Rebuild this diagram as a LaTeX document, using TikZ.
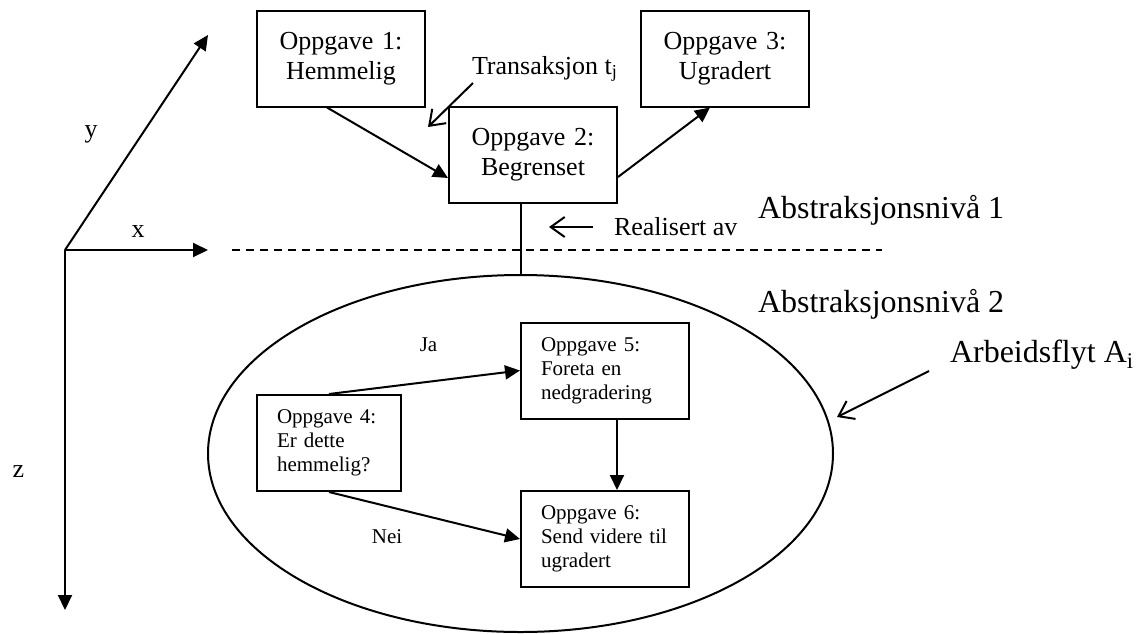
\documentclass[tikz,border=0pt]{standalone}
\usepackage{fontspec}
\setmainfont{Liberation Serif}
\usetikzlibrary{arrows.meta,shapes.geometric,calc}
\begin{document}
\begin{tikzpicture}[x=1pt,y=-1pt,
  line width=2pt,
  big/.style={font=\fontsize{26}{30}\selectfont},
  small/.style={font=\fontsize{21}{24}\selectfont},
  large/.style={font=\fontsize{32}{36}\selectfont},
  topbox/.style={draw, big, align=center, text width=128pt, inner xsep=20pt,
    inner ysep=0pt, minimum width=168pt, minimum height=96pt},
  lowbox/.style={draw, small, align=left, inner xsep=20pt, inner ysep=0pt,
    minimum width=168pt, minimum height=96pt},
  fillarrow/.style={-{Triangle[length=15pt,width=14pt]}},
  openarrow/.style={-{Straight Barb[length=14pt,width=20pt]}},
  label/.style={inner sep=0pt}
]
\useasboundingbox (0,0) rectangle (1136,633);

% abstraction level 1: tasks
\node[topbox] (b1) at (341,58.5) {Oppgave 1:\\Hemmelig};
\node[topbox] (b2) at (533,154.5) {Oppgave 2:\\Begrenset};
\node[topbox] (b3) at (725,58.5) {Oppgave 3:\\Ugradert};

% abstraction level 2: workflow
\node[ellipse, draw, minimum width=625pt, minimum height=357pt, inner sep=0pt]
  (wf) at (520.5,453.5) {};
\node[lowbox, text width=104pt, minimum width=144pt] (b4) at (329,443)
  {Oppgave 4:\\Er dette\\hemmelig?};
\node[lowbox, text width=128pt] (b5) at (605,370.5)
  {Oppgave 5:\\Foreta en\\nedgradering};
\node[lowbox, text width=128pt] (b6) at (605,539)
  {Oppgave 6:\\Send videre til\\ugradert};

% task flow
\draw[fillarrow] ($(b1.south west)+(71,0)$) -- ($(b2.west)+(0,23.5)$);
\draw[fillarrow] ($(b2.east)+(0,22.5)$) -- ($(b3.south)+(-15,0)$);
\draw[fillarrow] (b4.north) -- (b5.west);
\draw[fillarrow] (b4.south) -- (b6.west);
\draw[fillarrow] ($(b5.south)+(12,0)$) -- ($(b6.north)+(12,0)$);
\draw (wf.north |- b2.south) -- (wf.north);

\node[small, anchor=base] (ja) at (428.5,351.5) {Ja};
\node[small, anchor=base] (nei) at (387,543) {Nei};

% axes
\coordinate (o) at (65,250);
\coordinate (xt) at (208,250);
\coordinate (yt) at (208,35);
\coordinate (zt) at (65,610);
\draw[fillarrow] (o) -- (xt);
\draw[fillarrow] (o) -- (yt);
\draw[fillarrow] (o) -- (zt);
\node[big, anchor=base] (lx) at (138,237) {x};
\node[big, anchor=base] (ly) at (91,137) {y};
\node[big, anchor=base] (lz) at (18.5,477) {z};

% level separator
\coordinate (d1) at (232,250);
\coordinate (d2) at (882,250);
\draw[line width=1.6pt, dash pattern=on 8pt off 6pt] (d1) -- (d2);

% annotations
\node[big, label, anchor=base west] (tr) at (471,74) {Transaksjon t\textsubscript{j}};
\coordinate (trtip) at (428,127);
\draw[openarrow] ($(tr.base west)+(2,9)$) -- (trtip);

\node[big, label, anchor=base west] (ra) at (613,235) {Realisert av};
\coordinate (ratip) at (549,227);
\draw[openarrow] ($(ra.base west)+(-20,-8)$) -- (ratip);

\node[large, label, anchor=base west] (n1) at (757,218) {Abstraksjonsnivå 1};
\node[large, label, anchor=base west] (n2) at (757,312) {Abstraksjonsnivå 2};

\node[large, label, anchor=base west] (af) at (949,362) {Arbeidsflyt A\textsubscript{i}};
\coordinate (aftip) at (837,417);
\draw[openarrow] ($(af.base west)+(-20,9)$) -- (aftip);
\end{tikzpicture}
\end{document}
